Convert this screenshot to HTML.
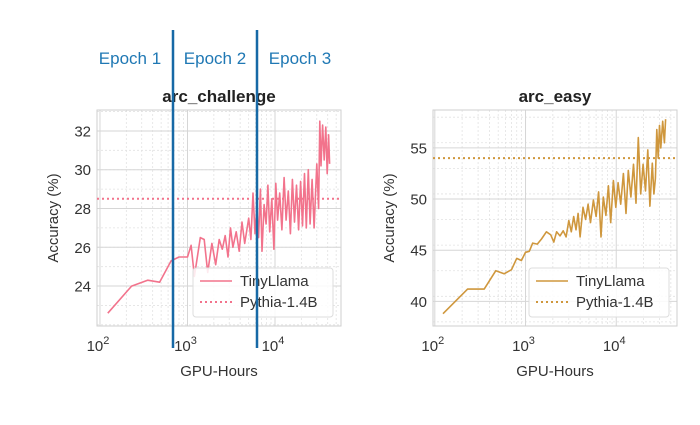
<!DOCTYPE html>
<html><head><meta charset="utf-8"><style>
body{margin:0;background:#fff;width:700px;height:420px;overflow:hidden}
svg{font-family:"Liberation Sans",sans-serif}
</style></head><body>
<svg id="c" width="700" height="420"></svg>
<script>
const chHours=[123,230,350,480,650,800,1000,1100,1200,1400,1550,1700,1900,2100,2300,2500,2700,2900,3100,3300,3600,3900,4200,4500,5000,5300,5600,5900,6200,6500,6800,7100,7500,7900,8300,8700,9200,9700,10200,10700,11300,12000,12700,13400,14200,15000,15800,16700,17600,18600,19600,20600,21700,22800,24000,25200,26500,28000,30000,31500,32500,33500,35000,36500,38000,39500,41000,42000];
const chAcc=[22.6,24.0,24.3,24.2,25.3,25.5,25.5,26.1,24.5,26.5,26.4,24.7,26.2,25.1,26.4,25.9,26.6,25.5,27.0,26.0,26.8,25.8,27.3,26.2,27.5,26.4,28.8,26.7,28.0,26.5,29.0,25.8,28.2,27.2,29.2,26.8,28.5,25.9,29.3,27.4,28.8,26.9,29.6,27.4,28.9,26.7,29.5,27.3,29.2,26.9,29.4,27.1,29.8,27.0,30.0,27.2,29.5,27.0,30.3,28.0,32.5,30.2,32.3,30.5,32.2,29.8,31.8,30.3];
const chPythia=28.5;
const ezHours=[123,230,350,470,580,700,800,900,1000,1100,1200,1350,1500,1700,1900,2050,2200,2400,2600,2800,3000,3200,3400,3600,3800,4000,4300,4600,4900,5200,5600,6000,6400,6800,7200,7700,8200,8700,9300,9900,10500,11200,12000,12800,13600,14500,15500,16500,17500,18600,19800,21000,22300,23500,25000,26000,27000,28000,29000,30000,31000,32500,34000,35000];
const ezAcc=[38.8,41.2,41.2,43.0,42.7,43.1,44.2,44.0,44.8,44.9,45.7,45.6,46.1,46.8,46.5,45.8,46.8,46.4,46.9,46.3,47.9,46.8,48.3,47.0,48.6,46.3,49.2,48.0,49.5,47.7,49.9,48.3,50.7,46.3,50.2,48.4,51.3,47.7,51.8,49.2,51.6,49.5,52.5,48.6,52.8,50.2,53.4,49.6,56.0,50.5,53.4,50.8,54.8,49.3,53.5,50.5,52.0,56.8,54.0,57.2,55.0,57.6,55.5,57.8];
const ezPythia=54.0;
const chTicks=[24,26,28,30,32];
const ezTicks=[40,45,50,55];
const xTickExp=[2,3,4];

const svg=document.getElementById('c');
const NS='http://www.w3.org/2000/svg';
function mk(t,a,p){const e=document.createElementNS(NS,t);for(const k in a)e.setAttribute(k,a[k]);(p||svg).appendChild(e);return e;}

function panel(o){
  const g=mk('g',{});
  
  
  const X=v=>o.x0+(Math.log10(v)-o.lx0)/(o.lx1-o.lx0)*(o.x1-o.x0);
  const Y=v=>o.y1-(v-o.vy0)/(o.vy1-o.vy0)*(o.y1-o.y0);
  for(let d=1;d<=4;d++)for(let m=2;m<=9;m++){const v=m*Math.pow(10,d);const x=X(v);if(x>o.x0&&x<o.x1)mk('line',{x1:x,x2:x,y1:o.y0,y2:o.y1,stroke:'#e2e2e2','stroke-width':0.8,'stroke-dasharray':'2,2'},g);}
  for(let v=Math.ceil(o.vy0);v<=o.vy1;v+=o.minor){const y=Y(v);mk('line',{x1:o.x0,x2:o.x1,y1:y,y2:y,stroke:'#e2e2e2','stroke-width':0.8,'stroke-dasharray':'2,2'},g);}
  o.yt.forEach(v=>{const y=Y(v);mk('line',{x1:o.x0,x2:o.x1,y1:y,y2:y,stroke:'#d6d6d6','stroke-width':1},g);
    const t=mk('text',{x:o.x0-6,y:y+5.5,'text-anchor':'end','font-size':15,fill:'#333'},g);t.textContent=v;
    });
  xTickExp.forEach(e=>{const x=X(Math.pow(10,e));mk('line',{x1:x,x2:x,y1:o.y0,y2:o.y1,stroke:'#d6d6d6','stroke-width':1},g);
    const t=mk('text',{x:x-2,y:o.y1+25,'text-anchor':'middle','font-size':15,fill:'#333'},g);t.textContent='10';
    const s=mk('tspan',{dy:-7,'font-size':11},t);s.textContent=e;
    });
  mk('rect',{x:o.x0,y:o.y0,width:o.x1-o.x0,height:o.y1-o.y0,fill:'none',stroke:'#cfcfcf','stroke-width':1},g);
  const py=Y(o.py);
  const pl=mk('line',{x1:o.x0,x2:o.x1,y1:py,y2:py,stroke:o.col,'stroke-width':2,'stroke-dasharray':'2,3'},g);
  
  const pts=o.h.map((h,i)=>X(h).toFixed(1)+','+Y(o.a[i]).toFixed(1)).join(' ');
  const ln=mk('polyline',{points:pts,fill:'none',stroke:o.col,'stroke-width':1.6,'stroke-linejoin':'round'},g);
  
  const tt=mk('text',{x:(o.x0+o.x1)/2,y:o.y0-8,'text-anchor':'middle','font-size':17,'font-weight':'bold',fill:'#222'},g);tt.textContent=o.title;
  
  const xl=mk('text',{x:(o.x0+o.x1)/2,y:o.y1+50,'text-anchor':'middle','font-size':15,fill:'#333'},g);xl.textContent='GPU-Hours';
  
  const yl=mk('text',{x:0,y:0,'text-anchor':'middle','font-size':15,fill:'#333',transform:`translate(${o.x0-39},${(o.y0+o.y1)/2}) rotate(-90)`},g);yl.textContent='Accuracy (%)';
  
  const lg=mk('g',{},g);
  mk('rect',{x:o.lx,y:268,width:140,height:49,rx:3,fill:'#fff','fill-opacity':0.85,stroke:'#ddd'},lg);
  mk('line',{x1:o.lx+7,x2:o.lx+39,y1:281,y2:281,stroke:o.col,'stroke-width':1.6},lg);
  mk('line',{x1:o.lx+7,x2:o.lx+39,y1:302,y2:302,stroke:o.col,'stroke-width':2,'stroke-dasharray':'2,3'},lg);
  const a=mk('text',{x:o.lx+47,y:286,'font-size':15,fill:'#333'},lg);a.textContent='TinyLlama';
  const b=mk('text',{x:o.lx+47,y:307,'font-size':15,fill:'#333'},lg);b.textContent='Pythia-1.4B';
}
panel({name:'arc-challenge-panel',title:'arc_challenge',x0:97,x1:341,y0:110,y1:326,lx0:1.966,lx1:4.754,vy0:21.94,vy1:33.08,minor:1,yt:chTicks,h:chHours,a:chAcc,py:chPythia,col:'#f2738c',lx:193});
panel({name:'arc-easy-panel',title:'arc_easy',x0:433,x1:677,y0:110,y1:326,lx0:1.98,lx1:4.67,vy0:37.6,vy1:58.7,minor:2.5,yt:ezTicks,h:ezHours,a:ezAcc,py:ezPythia,col:'#cf973d',lx:529});
[173,257].forEach(x=>{const l=mk('line',{x1:x,x2:x,y1:30,y2:348,stroke:'#1769a6','stroke-width':2.5});
  });
[['Epoch 1',130],['Epoch 2',215],['Epoch 3',300]].forEach(([s,x])=>{const t=mk('text',{x:x,y:64,'text-anchor':'middle','font-size':17,fill:'#1f78b4'});t.textContent=s;
  });
</script>
</body></html>
